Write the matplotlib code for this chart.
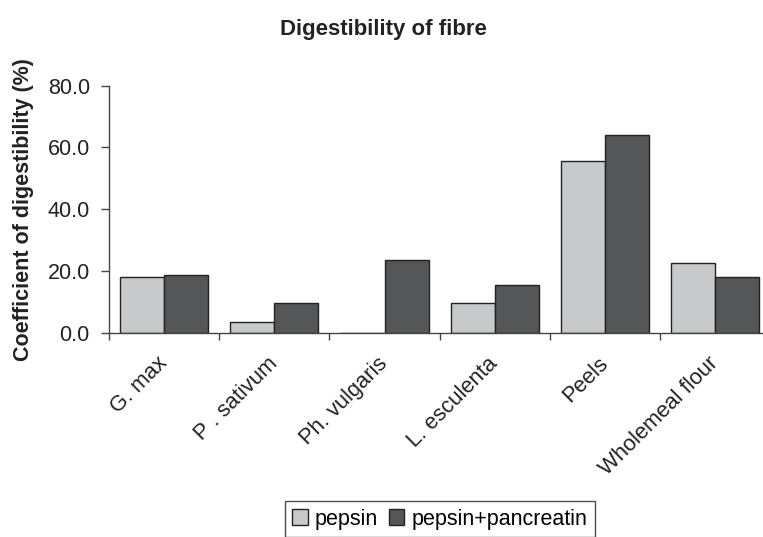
import matplotlib
matplotlib.use("Agg")
import matplotlib.pyplot as plt
import matplotlib.transforms as mtransforms
import numpy as np

categories = ["G. max", "P . sativum", "Ph. vulgaris", "L. esculenta", "Peels", "Wholemeal flour"]
pepsin = [18.1, 3.4, 0.0, 9.6, 55.6, 22.7]
pepsin_pancreatin = [18.7, 9.6, 23.5, 15.3, 64.1, 18.1]
series_names = ["pepsin", "pepsin+pancreatin"]
yticks = [0.0, 20.0, 40.0, 60.0, 80.0]

plt.rcParams['font.family'] = ['Liberation Sans', 'DejaVu Sans']

fig = plt.figure(figsize=(7.63, 5.37), dpi=100)
ax = fig.add_axes([109/763, 1 - 332.7/537, 661.4/763, 247/537])

x = np.arange(len(categories))
w = 0.4
ax.bar(x - w/2, pepsin, width=w, color="#c8c9cb", edgecolor="#222222", linewidth=1.0, label=series_names[0])
ax.bar(x + w/2, pepsin_pancreatin, width=w, color="#555658", edgecolor="#222222", linewidth=1.0, label=series_names[1])

ax.set_xlim(-0.5, len(categories) - 0.5)
ax.set_ylim(0, 80)
ax.set_yticks(yticks)
ax.set_yticklabels([f"{v:.1f}" for v in yticks], fontsize=15.5, color="#222222")
ax.set_xticks(x)
labels = ax.set_xticklabels(categories, rotation=45, ha="right", va="center", rotation_mode="anchor",
                            fontsize=15.8, color="#222222")
offset = mtransforms.ScaledTranslation(-13/100, 0, fig.dpi_scale_trans)
for lab in labels:
    lab.set_transform(lab.get_transform() + offset)
ax.tick_params(axis="x", which="major", length=0, pad=20)
ax.set_xticks(np.arange(len(categories)) - 0.5, minor=True)
ax.tick_params(axis="x", which="minor", length=5, width=1, color="#444444", direction="out")
ax.tick_params(axis="y", length=5.8, width=1, color="#444444", direction="out", pad=8)

for s in ["top", "right"]:
    ax.spines[s].set_visible(False)
for s in ["left", "bottom"]:
    ax.spines[s].set_color("#444444")
    ax.spines[s].set_linewidth(1.0)

ax.set_ylabel("Coefficient of digestibility (%)", fontsize=15.5, fontweight="bold", color="#222222")
ax.yaxis.set_label_coords(-75/661.4, 0.5)
fig.text(383/763, 1 - 30/537, "Digestibility of fibre", ha="center", va="center", fontsize=16, fontweight="bold", color="#222222")

leg = fig.legend(loc="upper center", bbox_to_anchor=(440/763, 1 - 501/537), ncol=2, frameon=True,
                 fancybox=False, edgecolor="#222222", fontsize=15.5, handlelength=0.7, handleheight=0.7,
                 handletextpad=0.35, columnspacing=0.5, borderpad=0.35, borderaxespad=0)
leg.get_frame().set_linewidth(1.0)

fig.savefig("out.png", dpi=100)
